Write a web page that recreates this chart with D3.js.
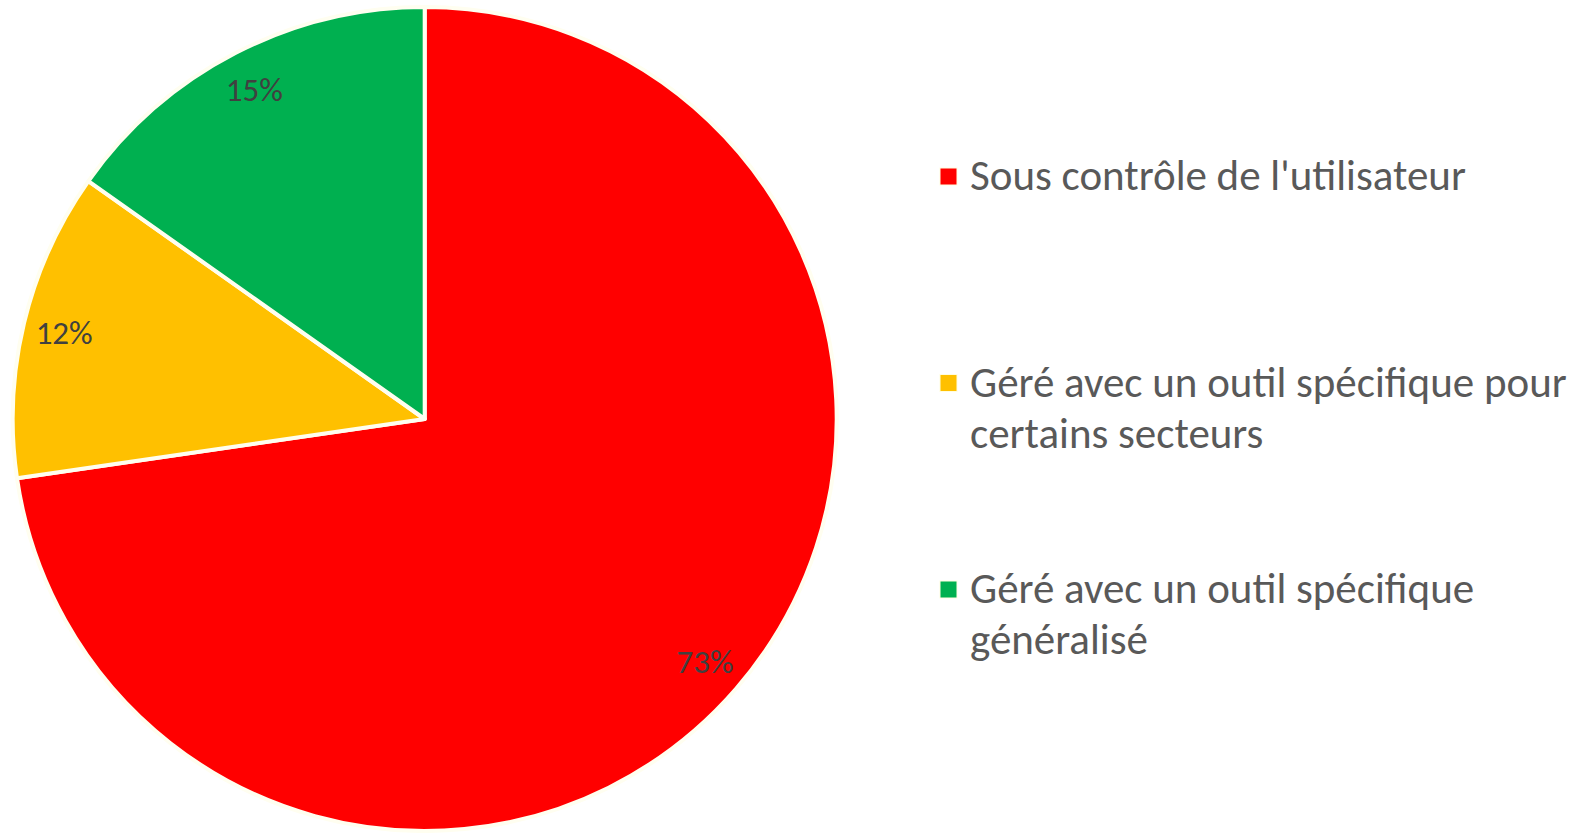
<!DOCTYPE html>
<html>
<head>
<meta charset="utf-8">
<script src="https://cdn.jsdelivr.net/npm/d3@7"></script>
<style>
	body { margin: 0; background: #fff; }
	svg { display: block; }
</style>
</head>
<body>
<svg></svg>
<script>
// chart data

var categories = [
	"Sous contrôle de l'utilisateur",
	"Géré avec un outil spécifique pour certains secteurs",
	"Géré avec un outil spécifique généralisé"
];

var values = [72.7, 12.1, 15.2]; // percent, labels show them rounded

var colors = ['#ff0000', '#ffc000', '#00b050'];

// legend text split the way it wraps in the picture
var legendLines = [
	["Sous contrôle de l'utilisateur"],
	["Géré avec un outil spécifique pour", "certains secteurs"],
	["Géré avec un outil spécifique", "généralisé"]
];

// svg measurements

var width = 1585,
	height = 833,
	cx = 424.7,
	cy = 419,
	radius = 412;

var fontStack = "Carlito, Calibri, 'Open Sans', sans-serif";

var svg = d3.select('svg')
			.attr('width', width)
			.attr('height', height);

var data = categories.map((c, i) => ({ name: c, value: values[i], color: colors[i] }));

var pie = d3.pie()
			.sort(null)
			.value(d => d.value);

var arc = d3.arc()
			.innerRadius(0)
			.outerRadius(radius);

var labelArc = d3.arc() // labels sit near the rim
			.innerRadius(radius * 0.9)
			.outerRadius(radius * 0.9);

var g = svg.append('g')
	.attr('transform', 'translate(' + cx + ',' + cy + ')');

g.selectAll('path')
	.data(pie(data))
	.enter()
	.append('path')
		.attr('d', arc)
		.attr('fill', d => d.data.color)
		.attr('stroke', '#fffef0')
		.attr('stroke-width', 4)
		.attr('stroke-linejoin', 'round');

g.selectAll('text.label')
	.data(pie(data))
	.enter()
	.append('text')
		.attr('class', 'label')
		.attr('transform', d => 'translate(' + labelArc.centroid(d) + ')')
		.attr('dy', '0.35em')
		.style('text-anchor', 'middle')
		.style('font-family', fontStack)
		.style('font-size', '33px')
		.style('fill', '#404040')
		.text(d => Math.round(d.data.value) + '%');

// Legend

var legendX = 940,
	legendTop = 190,
	itemGap = 206.5,
	lineHeight = 51;

var legend = svg.selectAll('g.legend')
	.data(data)
	.enter()
	.append('g')
		.attr('class', 'legend')
		.attr('transform', (d, i) => 'translate(' + legendX + ',' + (legendTop + i * itemGap) + ')');

legend.append('rect')
	.attr('x', 0)
	.attr('y', -22)
	.attr('width', 17)
	.attr('height', 17)
	.attr('fill', d => d.color)
	.attr('stroke', '#fffde0')
	.attr('stroke-width', 1);

legend.append('text')
	.style('font-family', fontStack)
	.style('font-size', '43px')
	.style('fill', '#595959')
	.selectAll('tspan')
	.data((d, i) => legendLines[i])
	.enter()
	.append('tspan')
		.attr('x', 30)
		.attr('y', (d, j) => j * lineHeight)
		.text(d => d);
</script>
</body>
</html>
